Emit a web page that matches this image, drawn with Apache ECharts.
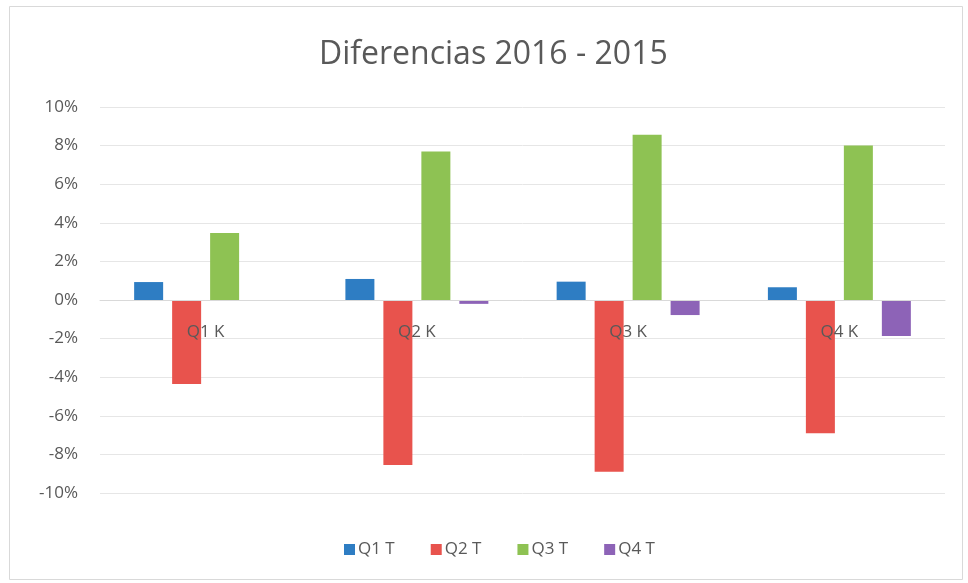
<!DOCTYPE html>
<html>
<head>
<meta charset="utf-8">
<title>Diferencias 2016 - 2015</title>
<script src="https://cdn.jsdelivr.net/npm/echarts@6/dist/echarts.min.js"></script>
<style>
  html, body { margin: 0; padding: 0; background: #ffffff; }
  #chart { width: 968px; height: 583px; }
</style>
</head>
<body>
<div id="chart"></div>
<script>
// categories and series values (percent)
const categories = ['Q1 K', 'Q2 K', 'Q3 K', 'Q4 K']
const seriesNames = ['Q1 T', 'Q2 T', 'Q3 T', 'Q4 T']
const q1t = [0.93, 1.09, 0.95, 0.66]
const q2t = [-4.35, -8.55, -8.9, -6.9]
const q3t = [3.47, 7.7, 8.56, 8.0]
const q4t = [0, -0.2, -0.78, -1.87]
const colors = ['#2e7dc3', '#e8534d', '#8ec253', '#8d63b7']

const chart = echarts.init(document.getElementById('chart'))

const fontFamily = '"Open Sans", "Noto Sans", sans-serif'
const textColor = '#595959'

const makeBar = (name, data, color) => ({
  name,
  type: 'bar',
  data,
  barWidth: 29,
  barGap: '31%',
  itemStyle: { color }
})

chart.setOption({
  animation: false,
  backgroundColor: '#ffffff',
  title: {
    text: 'Diferencias 2016 - 2015',
    left: 314,
    top: 34,
    textStyle: {
      fontFamily,
      fontSize: 32,
      fontWeight: 'normal',
      color: textColor
    }
  },
  legend: {
    bottom: 20,
    left: 339,
    itemWidth: 11,
    itemHeight: 11,
    itemGap: 36,
    icon: 'rect',
    textStyle: { fontFamily, fontSize: 17, color: textColor, padding: [0, 0, 0, -2] },
    data: seriesNames
  },
  grid: {
    left: 100,
    right: 23,
    top: 107,
    bottom: 90
  },
  xAxis: {
    type: 'category',
    data: categories,
    // labels sit just under the zero line and over the bars, as in the original
    offset: -193,
    z: 5,
    axisLine: { onZero: false, lineStyle: { color: '#d9d9d9' } },
    axisTick: { show: false },
    axisLabel: {
      margin: 24,
      fontFamily,
      fontSize: 17,
      color: textColor
    }
  },
  yAxis: {
    type: 'value',
    min: -10,
    max: 10,
    interval: 2,
    axisLine: { show: false },
    axisTick: { show: false },
    splitLine: { lineStyle: { color: '#e6e6e6' } },
    axisLabel: {
      margin: 22,
      fontFamily,
      fontSize: 17,
      color: textColor,
      formatter: (v) => v + '%'
    }
  },
  graphic: [
    {
      type: 'rect',
      shape: { x: 9.5, y: 6.5, width: 953, height: 573 },
      style: { fill: 'none', stroke: '#d9d9d9', lineWidth: 1 },
      silent: true,
      z: -1
    }
  ],
  series: [
    makeBar(seriesNames[0], q1t, colors[0]),
    makeBar(seriesNames[1], q2t, colors[1]),
    makeBar(seriesNames[2], q3t, colors[2]),
    makeBar(seriesNames[3], q4t, colors[3])
  ]
})

window.addEventListener('resize', () => chart.resize())
</script>
</body>
</html>
